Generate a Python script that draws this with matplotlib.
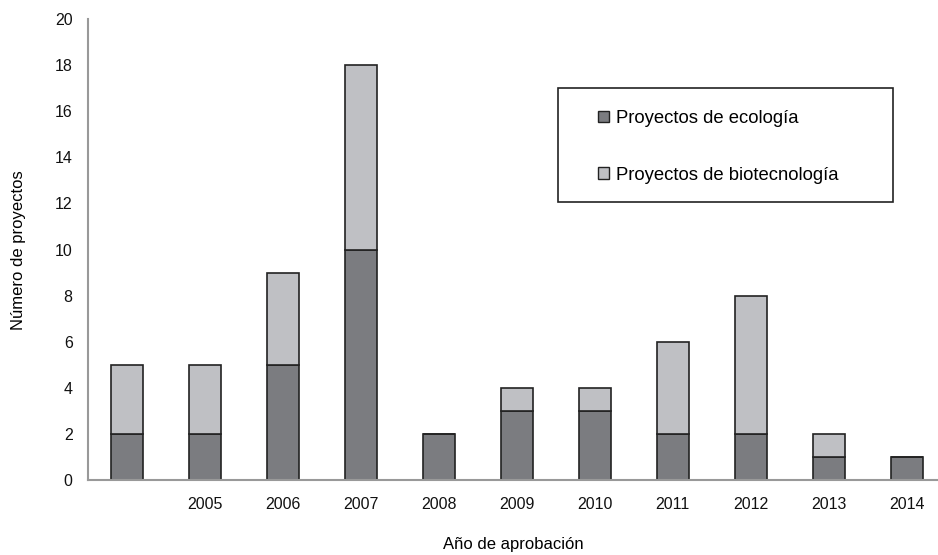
import matplotlib
matplotlib.use("Agg")
import matplotlib.pyplot as plt
from matplotlib.patches import Patch, Rectangle

# Proyectos aprobados por año
years = ["", "2005", "2006", "2007", "2008", "2009", "2010", "2011", "2012", "2013", "2014"]
ecologia = [2, 2, 5, 10, 2, 3, 3, 2, 2, 1, 1]
biotecnologia = [3, 3, 4, 8, 0, 1, 1, 4, 6, 1, 0]

DARK = "#7b7c80"
LIGHT = "#bfc0c4"
EDGE = "#222222"

plt.rcParams['font.family'] = ['Liberation Sans', 'DejaVu Sans']

fig = plt.figure(figsize=(9.38, 5.55), dpi=100)
ax = fig.add_axes([88 / 938, 1 - 480 / 555, 1 - 88 / 938, (480 - 19) / 555])

x = list(range(len(years)))
ax.bar(x, ecologia, width=0.41, color=DARK, edgecolor=EDGE, linewidth=1.2)
ax.bar(x, biotecnologia, width=0.41, bottom=ecologia, color=LIGHT, edgecolor=EDGE, linewidth=1.2)

ax.set_xlim(-0.5, 10.4)
ax.set_ylim(0, 20)
ax.set_yticks(range(0, 21, 2))
ax.set_xticks(x)
ax.set_xticklabels(years)
ax.tick_params(axis='both', length=0, labelsize=11.5, colors='#111111')
ax.tick_params(axis='x', pad=12)
ax.tick_params(axis='y', pad=11)

for side in ['top', 'right']:
    ax.spines[side].set_visible(False)
for side in ['left', 'bottom']:
    ax.spines[side].set_color('#999999')
    ax.spines[side].set_linewidth(1.5)

fig.text(18 / 938, 1 - 250 / 555, "Número de proyectos", rotation=90,
         ha='center', va='center', fontsize=12)
fig.text(0.5 + 44 / 938, 1 - 545 / 555, "Año de aprobación",
         ha='center', va='center', fontsize=12)

# legend frame drawn separately
fig.patches.append(Rectangle((558 / 938, 1 - 202 / 555), (893 - 558) / 938, (202 - 88) / 555,
                             transform=fig.transFigure, fill=False,
                             edgecolor='#222222', linewidth=1.2))

handles = [Patch(facecolor=DARK, edgecolor=EDGE, label="Proyectos de ecología"),
           Patch(facecolor=LIGHT, edgecolor=EDGE, label="Proyectos de biotecnología")]
leg = fig.legend(handles=handles, loc='upper left',
                 bbox_to_anchor=(598 / 938, 1 - 110 / 555),
                 fontsize=13.3, frameon=False,
                 handlelength=0.62, handleheight=0.62, handletextpad=0.35,
                 labelspacing=2.15, borderpad=0, borderaxespad=0)

fig.savefig("out.png", dpi=100)
